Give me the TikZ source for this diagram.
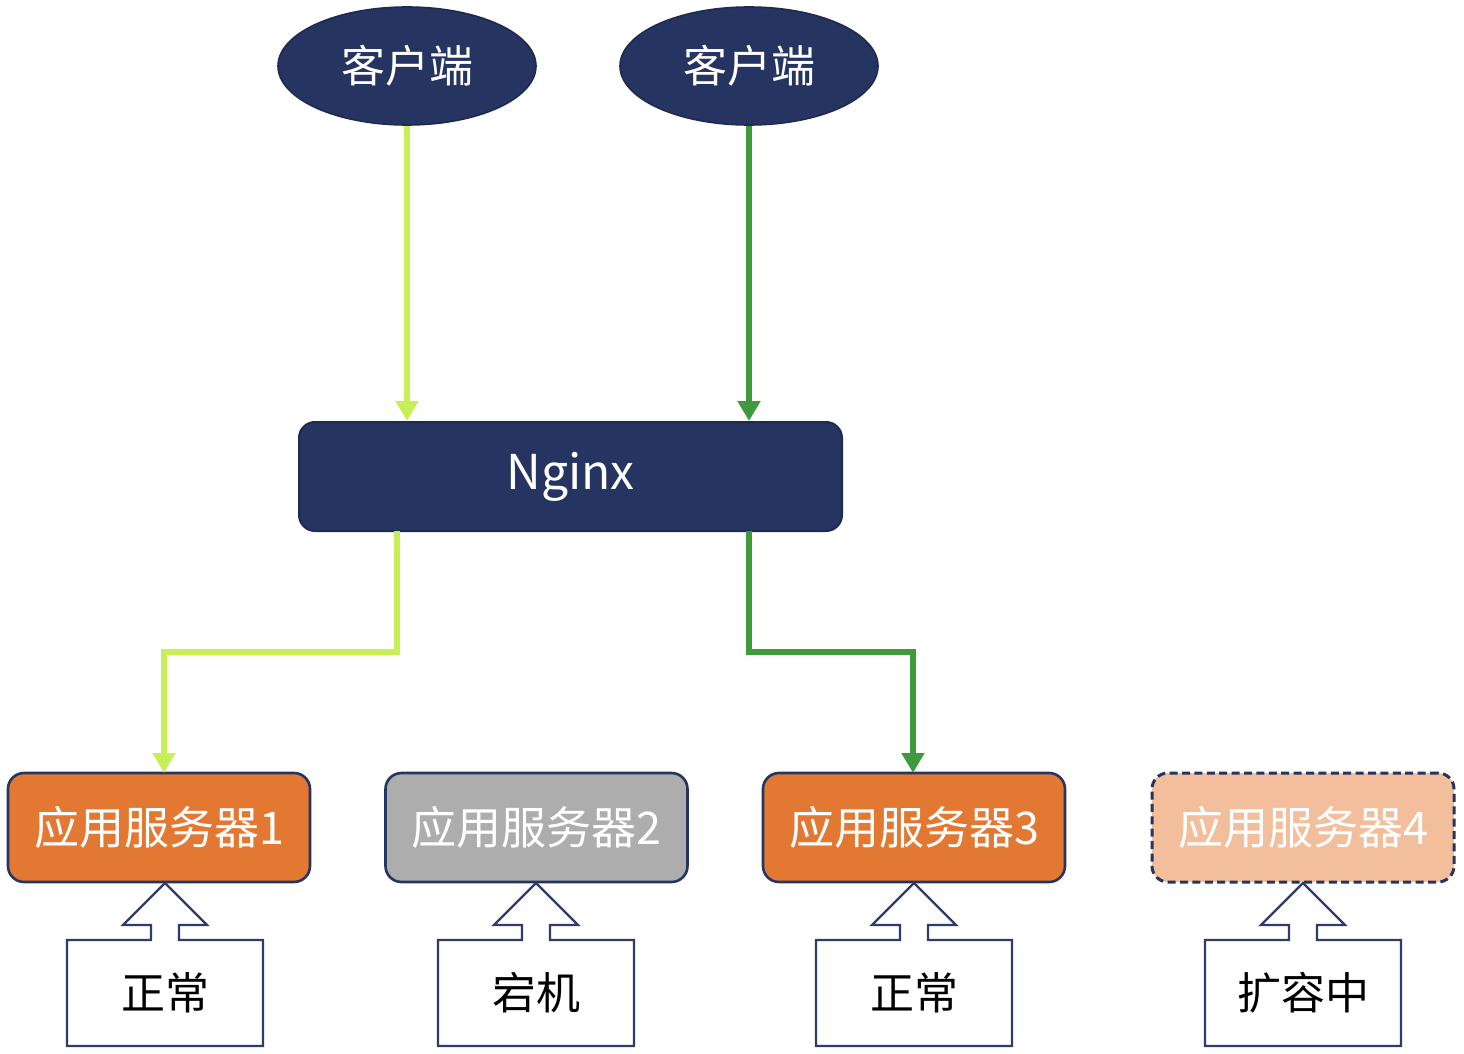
\documentclass[tikz,border=0pt]{standalone}
\usepackage{fontspec}
\setmainfont{Noto Sans CJK SC}
\usetikzlibrary{shapes.geometric,arrows.meta}
\definecolor{navy}{HTML}{253461}
\definecolor{lgreen}{HTML}{C6EF58}
\definecolor{dgreen}{HTML}{3E9A3C}
\definecolor{orng}{HTML}{E27832}
\definecolor{gry}{HTML}{ADADAD}
\definecolor{peach}{HTML}{F2BE9B}
\definecolor{cbord}{HTML}{2E3C6B}
\tikzset{
  client/.style={ellipse,fill=navy,draw=navy!80!black,line width=0.8pt,minimum width=129pt,minimum height=59pt,inner sep=0pt,text=white,font=\fontsize{22}{26}\selectfont},
  ngxbox/.style={rectangle,rounded corners=8pt,fill=navy,draw=navy!80!black,line width=1pt,minimum width=271.5pt,minimum height=54.5pt,text=white,font=\fontsize{24}{28}\selectfont},
  srv/.style={rectangle,rounded corners=8pt,draw=navy,line width=1.3pt,minimum width=151pt,minimum height=54.5pt,text=white,inner sep=0pt,font=\fontsize{22.5}{26}\selectfont},
  conn/.style={line width=3.3pt,-{Triangle[length=10pt,width=11pt]}},
  callout/.style={draw=cbord,line width=1.1pt,fill=white},
  stat/.style={font=\fontsize{22}{26}\selectfont,text=black}
}
\begin{document}
\begin{tikzpicture}[x=0.5pt,y=-0.5pt]
\useasboundingbox (0,0) rectangle (1464,1054);
\node[client] (c1) at (407,66) {客户端};
\node[client] (c2) at (749,66) {客户端};
\node[ngxbox] (ngx) at (570.5,476.5) {\raisebox{-2pt}{Nginx}};
\node[srv,fill=orng] (s1) at (159,827.5) {应用服务器1};
\node[srv,fill=gry] (s2) at (536.5,827.5) {应用服务器2};
\node[srv,fill=orng] (s3) at (914,827.5) {应用服务器3};
\node[srv,fill=peach,line width=1.5pt,dash pattern=on 4pt off 2.2pt] (s4) at (1303,827.5) {应用服务器4};
% connectors
\draw[conn,lgreen] (c1.south) -- (c1.south |- ngx.north);
\draw[conn,dgreen] (c2.south) -- (c2.south |- ngx.north);
\coordinate (o1) at (397,531);
\coordinate (o3) at (749,531);
\draw[conn,lgreen] (o1) -- (397,652) -- (164,652) -- (164,773);
\draw[conn,dgreen] (o3) -- (749,652) -- (913,652) -- (913,773);
% callouts
\foreach \n/\x/\t in {1/165/正常,2/536/宕机,3/914/正常,4/1303/扩容中}{
  \draw[callout] (\x-98,1046) -- (\x-98,940) -- (\x-14,940) -- (\x-14,925) -- (\x-42,925) -- (\x,883) -- (\x+42,925) -- (\x+14,925) -- (\x+14,940) -- (\x+98,940) -- (\x+98,1046) -- cycle;
  \node[stat] (st\n) at (\x,993) {\t};
}
\end{tikzpicture}
\end{document}
